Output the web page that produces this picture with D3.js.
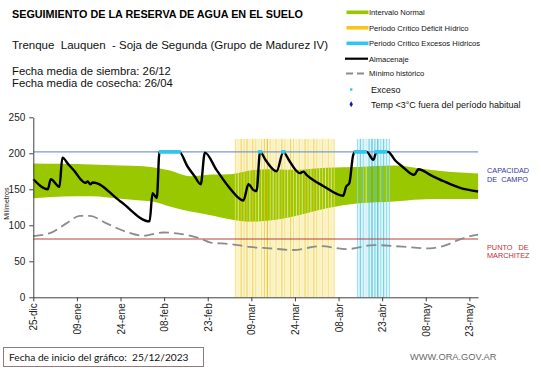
<!DOCTYPE html>
<html>
<head>
<meta charset="utf-8">
<script src="https://cdn.jsdelivr.net/npm/d3@7"></script>
<style>
  html, body { margin: 0; padding: 0; background: #fff; }
  svg { display: block; }
  text { font-family: "Liberation Sans", Arial, sans-serif; }
</style>
</head>
<body>
<svg id="chart" width="541" height="368"></svg>
<script>
// ---------------- DATA ----------------
const title = "SEGUIMIENTO DE LA RESERVA DE AGUA EN EL SUELO";
const subtitle = "Trenque  Lauquen  - Soja de Segunda (Grupo de Madurez IV)";
const infoLines = ["Fecha media de siembra: 26/12", "Fecha media de cosecha: 26/04"];
const startLabel = "Fecha de inicio del gráfico:  25/12/2023";
const website = "WWW.ORA.GOV.AR";

// x axis: days since 25/12/2023
const xTickDays = [0, 15, 30, 45, 60, 75, 90, 105, 120, 135, 150];
const xTickLabels = ["25-dic", "09-ene", "24-ene", "08-feb", "23-feb", "09-mar", "24-mar", "08-abr", "23-abr", "08-may", "23-may"];
const yTicks = [0, 50, 100, 150, 200, 250];

const capacidadCampo = 202;
const puntoMarchitez = 81;

// Intervalo normal (band)
const bandDays  = [0,     10,    20,    30,    38,    41,    47,    54,    61,    68,    74.5,  81,    89,    101,   112,   124,   133,   141,   153];
const bandLow   = [137.5, 140,   140.5, 137,   134,   133,   126,   119,   114,   108,   105,   106.5, 112,   123.6, 130.5, 133,   136,   136.5, 136.5];
const bandHigh  = [186,   185.5, 184.5, 183,   182,   180.5, 176,   168,   170.5, 171,   176,   178,   177,   180,   181,   183,   179,   175,   172];

// Almacenaje (storage)
const almDays = [0,   5,   6,   9,     10,  12,  14,  17,  18,  18.7, 19.6, 20.5, 30,  40,    41,    42.5, 43.4, 50.2, 53,  55.5, 57.6, 59,  63,  67.7, 72.3,  74,  75.7, 76.8, 78,  80,  83.7, 86,  88,  91.7,  92.9,  94,  100, 106.6, 107.6, 108.7, 110, 110.7, 114.7, 117, 118, 122, 124.5, 127,   131, 132.5, 137, 141,   146.8, 153];
const almVals = [164, 150, 164, 153.6, 194, 185, 176, 161, 159, 161,  157,  159.5, 133, 105.5, 144.5, 138,  202,  202,  182, 168,  157,  201, 177, 151,  134.5, 157, 149,  147.6, 202, 190, 175,  202, 190, 172.5, 174.5, 170, 154, 141,   153.6, 158.5, 197, 202,   202,   191, 202, 202, 190,   181.4, 170, 177.8, 169, 161.5, 152,   147];

// Mínimo histórico
const minDays = [0,  5.7, 11.5, 16,  19.5, 25,  32, 38,   42.5, 44.7, 51.6, 57.3, 61, 67.7, 74.5, 81.4, 89.4, 98.6, 108, 117,  127,  136.5, 142,  146.8, 152,  153];
const minVals = [85, 89,  103,  113, 113,  103, 91, 85.5, 89,   90,   87.5, 82,   76, 74,   70,   68,   65.7, 71,   67,  72.6, 70.3, 68,    72.6, 80.5,  86.5, 87];

// Exceso markers (days at field capacity with excess)
const excesoDays = [44, 45, 46, 47, 48, 49, 50, 78, 86, 111, 112, 113, 114, 118, 119, 120, 121];

// Periodo crítico: déficit hídrico days and shading level, excesos hídricos days and level
const deficitDays  = [70,71,72,73,74,75,76,77,78,79,80,81,82,83,84,85,86,87,88,89,90,91,92,93,94,95,96,97,98,99,100,101,102,103];
const deficitLevel = [1, 0, 2, 1, 2, 0, 2, 1, 0, 1, 2, 3, 1, 0, 1, 0, 2, 1, 0, 2, 1, 0, 1, 0, 2, 1, 0, 2, 1, 0, 1,  0,  1,  0];
const excesoPerDays  = [112,113,114,115,116,117,118,119,120,121,122];
const excesoPerLevel = [1,  2,  1,  0,  2,  3,  2,  3,  1,  2,  1];
const barTop = 220;

// Legend entries
const legendLabels = ["Intervalo Normal", "Periodo Crítico Déficit Hídrico", "Periodo Crítico Excesos Hídricos", "Almacenaje", "Mínimo histórico", "Exceso", "Temp <3°C fuera del período habitual"];

// ---------------- CHART ----------------
const svg = d3.select("#chart");
const x = d3.scaleLinear().domain([0, 153]).range([33.3, 478.1]);
const y = d3.scaleLinear().domain([0, 250]).range([297.3, 117.3]);

const yellowShades = ["#f9eeb0", "#f1dd6e", "#eacb3c", "#e0b400"];
const cyanShades = ["#c9f0f8", "#86d9ec", "#4cc3e0", "#1aa6ca"];

// pale fills of critical periods (behind band)
function drawPeriodFill(days, fillColor) {
  svg.append("g").selectAll("rect").data(days).join("rect")
    .attr("x", d => x(d - 0.5))
    .attr("width", d => x(d + 0.5) - x(d - 0.5))
    .attr("y", y(barTop))
    .attr("height", y(0) - y(barTop))
    .attr("fill", fillColor);
}
drawPeriodFill(deficitDays, "#fcf4cc");
drawPeriodFill(excesoPerDays, "#dcf5fb");

// band
const bandData = bandDays.map((d, i) => ({d, lo: bandLow[i], hi: bandHigh[i]}));
svg.append("path")
  .datum(bandData)
  .attr("d", d3.area().x(p => x(p.d)).y0(p => y(p.lo)).y1(p => y(p.hi)).curve(d3.curveMonotoneX))
  .attr("fill", "#99c800");

// stripes of critical periods (over band)
function drawPeriodLines(days, levels, shades) {
  const g = svg.append("g").attr("opacity", 0.8);
  g.selectAll("line").data(days).join("line")
    .attr("x1", d => x(d - 0.5)).attr("x2", d => x(d - 0.5))
    .attr("y1", y(barTop)).attr("y2", y(0))
    .attr("stroke", (d, i) => shades[levels[i]])
    .attr("stroke-width", 1);
  g.append("line")
    .attr("x1", x(days[days.length - 1] + 0.5)).attr("x2", x(days[days.length - 1] + 0.5))
    .attr("y1", y(barTop)).attr("y2", y(0))
    .attr("stroke", shades[1]).attr("stroke-width", 1);
}
drawPeriodLines(deficitDays, deficitLevel, yellowShades);
drawPeriodLines(excesoPerDays, excesoPerLevel, cyanShades);

// reference lines
svg.append("line")
  .attr("x1", x(0)).attr("x2", x(153))
  .attr("y1", y(capacidadCampo)).attr("y2", y(capacidadCampo))
  .attr("stroke", "#7a9ad2").attr("stroke-width", 1.2);
svg.append("line")
  .attr("x1", x(0)).attr("x2", x(153))
  .attr("y1", y(puntoMarchitez)).attr("y2", y(puntoMarchitez))
  .attr("stroke", "#b84040").attr("stroke-width", 1.1);

// minimo historico
const minData = minDays.map((d, i) => ({d, v: minVals[i]}));
svg.append("path")
  .datum(minData)
  .attr("d", d3.line().x(p => x(p.d)).y(p => y(p.v)).curve(d3.curveMonotoneX))
  .attr("fill", "none")
  .attr("stroke", "#8c8c8c")
  .attr("stroke-width", 1.8)
  .attr("stroke-dasharray", "10,5");

// almacenaje
const almData = almDays.map((d, i) => ({d, v: almVals[i]}));
svg.append("path")
  .datum(almData)
  .attr("d", d3.line().x(p => x(p.d)).y(p => y(p.v)).curve(d3.curveMonotoneX))
  .attr("fill", "none")
  .attr("stroke", "#000")
  .attr("stroke-width", 2.4)
  .attr("stroke-linejoin", "round");

// exceso markers
svg.append("g").selectAll("rect").data(excesoDays).join("rect")
  .attr("x", d => x(d) - 2.2)
  .attr("y", y(capacidadCampo) - 1.8)
  .attr("width", 4.4).attr("height", 3.6)
  .attr("fill", "#33c6ec");

// axes
const yAxis = svg.append("g")
  .attr("transform", `translate(${x(0)},0)`)
  .call(d3.axisLeft(y).tickValues(yTicks).tickSize(4).tickPadding(4).tickSizeOuter(0));
yAxis.select(".domain").attr("stroke", "#404040");
yAxis.selectAll(".tick line").attr("stroke", "#404040");
yAxis.selectAll(".tick text").attr("font-size", "10px").attr("fill", "#222")
  .attr("font-family", "Liberation Sans, Arial, sans-serif");

const xAxis = svg.append("g")
  .attr("transform", `translate(0,${y(0)})`)
  .call(d3.axisBottom(x).tickValues(xTickDays).tickFormat((d, i) => xTickLabels[i]).tickSize(4).tickSizeOuter(0));
xAxis.select(".domain").attr("stroke", "#404040");
xAxis.selectAll(".tick line").attr("stroke", "#404040");
xAxis.selectAll(".tick text")
  .attr("font-size", "10px").attr("fill", "#222")
  .attr("font-family", "Liberation Sans, Arial, sans-serif")
  .attr("transform", "rotate(-90)")
  .attr("text-anchor", "end")
  .attr("x", -6).attr("y", 0).attr("dy", "0.35em");

// y axis title
svg.append("text")
  .attr("transform", `translate(9,${y(130)}) rotate(-90)`)
  .attr("text-anchor", "middle")
  .attr("font-size", "7px")
  .attr("fill", "#222")
  .text("Milímetros");

// right labels
const blueLbl = svg.append("text").attr("font-size", "7.3px").attr("fill", "#3535a8");
blueLbl.append("tspan").attr("x", 487).attr("y", 172.5).text("CAPACIDAD");
blueLbl.append("tspan").attr("x", 487).attr("y", 181.5).style("white-space", "pre").text("DE  CAMPO");
const redLbl = svg.append("text").attr("font-size", "7.3px").attr("fill", "#c03030");
redLbl.append("tspan").attr("x", 487).attr("y", 249.5).style("white-space", "pre").text("PUNTO   DE");
redLbl.append("tspan").attr("x", 487).attr("y", 257.7).text("MARCHITEZ");

// titles
svg.append("text").attr("x", 12).attr("y", 18).attr("font-size", "10.8px").attr("font-weight", "bold").attr("fill", "#000").text(title);
svg.append("text").attr("x", 12).attr("y", 48.5).attr("font-size", "11.5px").attr("fill", "#111").style("white-space", "pre").text(subtitle);
svg.selectAll(".info").data(infoLines).join("text")
  .attr("class", "info")
  .attr("x", 12).attr("y", (d, i) => 74.8 + i * 12)
  .attr("font-size", "11.3px").attr("fill", "#111").text(d => d);

// legend
const lg = svg.append("g");
const ly = [12.3, 27.8, 43.3, 58.7, 73.5, 89.5, 104.3];
lg.append("rect").attr("x", 346.5).attr("y", ly[0] - 1.8).attr("width", 22).attr("height", 3.6).attr("fill", "#99c800");
lg.append("rect").attr("x", 346.5).attr("y", ly[1] - 1.8).attr("width", 22).attr("height", 3.6).attr("fill", "#f7c51c");
lg.append("rect").attr("x", 346.5).attr("y", ly[2] - 1.8).attr("width", 22).attr("height", 3.6).attr("fill", "#2ec6f0");
lg.append("line").attr("x1", 345).attr("x2", 368).attr("y1", ly[3]).attr("y2", ly[3]).attr("stroke", "#000").attr("stroke-width", 2.2);
lg.append("line").attr("x1", 346).attr("x2", 368).attr("y1", ly[4]).attr("y2", ly[4]).attr("stroke", "#8c8c8c").attr("stroke-width", 1.8).attr("stroke-dasharray", "7,4");
lg.append("rect").attr("x", 350).attr("y", ly[5] - 1.2).attr("width", 2.4).attr("height", 2.4).attr("fill", "#33c6ec");
lg.append("path").attr("d", d3.symbol().type(d3.symbolDiamond).size(10)()).attr("transform", `translate(351.2,${ly[6]})`).attr("fill", "#1a1aa8");
lg.selectAll(".lt").data(legendLabels).join("text")
  .attr("class", "lt")
  .attr("x", (d, i) => i >= 5 ? 371 : 369)
  .attr("y", (d, i) => ly[i] + (i >= 5 ? 3.2 : 2.8))
  .attr("font-size", (d, i) => i >= 5 ? "9px" : "7.6px").attr("fill", "#111")
  .text(d => d);

// footer
svg.append("rect").attr("x", 3.5).attr("y", 347.5).attr("width", 200).attr("height", 19)
  .attr("fill", "#fff").attr("stroke", "#8e7c7c").attr("stroke-width", 1);
svg.append("text").attr("x", 9).attr("y", 361).attr("font-size", "10.2px")
  .style("font-family", "Lato, 'Open Sans', sans-serif").style("white-space", "pre")
  .attr("fill", "#111").text(startLabel);
svg.append("text").attr("x", 410).attr("y", 360).attr("font-size", "9.3px").attr("fill", "#6a6a6a").text(website);
</script>
</body>
</html>
